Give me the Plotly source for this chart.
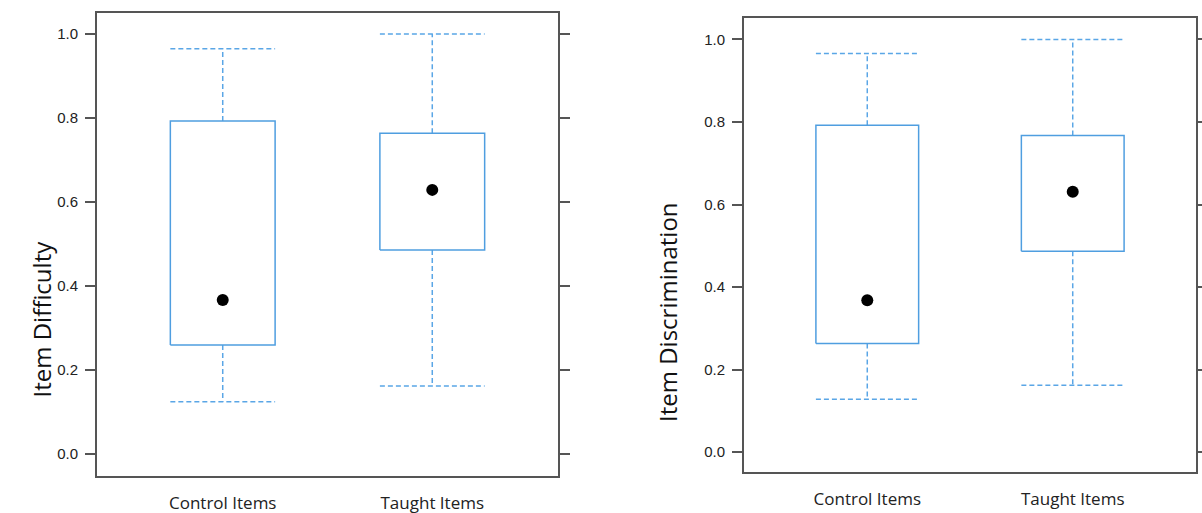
import plotly.graph_objects as go

# Box-and-whisker summaries for the two item groups
categories = ["Control Items", "Taught Items"]
positions = [1, 2]

difficulty_lower = [0.125, 0.162]
difficulty_q1 = [0.260, 0.486]
difficulty_median = [0.367, 0.629]
difficulty_q3 = [0.793, 0.764]
difficulty_upper = [0.965, 1.000]

discrimination_lower = [0.128, 0.162]
discrimination_q1 = [0.263, 0.487]
discrimination_median = [0.368, 0.631]
discrimination_q3 = [0.792, 0.767]
discrimination_upper = [0.966, 1.000]

y_ticks = [0.0, 0.2, 0.4, 0.6, 0.8, 1.0]

BOX_BLUE = "#4f9ee0"
WHISKER_BLUE = "#5aa6e6"
FRAME = "#555555"
HALF = 0.25

fig = go.Figure()


def add_panel(xref, yref, lower, q1, med, q3, upper):
    for x, lo, a, m, b, hi in zip(positions, lower, q1, med, q3, upper):
        # whiskers (dashed) with caps
        fig.add_trace(go.Scatter(
            x=[x, x, None, x, x, None, x - HALF, x + HALF, None, x - HALF, x + HALF],
            y=[b, hi, None, a, lo, None, hi, hi, None, lo, lo],
            mode="lines", line=dict(color=WHISKER_BLUE, width=1.5, dash="5px,3px"),
            xaxis=xref, yaxis=yref, hoverinfo="skip", showlegend=False))
        # box
        fig.add_trace(go.Scatter(
            x=[x - HALF, x + HALF, x + HALF, x - HALF, x - HALF],
            y=[a, a, b, b, a],
            mode="lines", line=dict(color=BOX_BLUE, width=1.5),
            xaxis=xref, yaxis=yref, hoverinfo="skip", showlegend=False))
        # median dot
        fig.add_trace(go.Scatter(
            x=[x], y=[m], mode="markers",
            marker=dict(color="black", size=12),
            xaxis=xref, yaxis=yref, showlegend=False))


add_panel("x", "y", difficulty_lower, difficulty_q1, difficulty_median,
          difficulty_q3, difficulty_upper)
add_panel("x2", "y2", discrimination_lower, discrimination_q1, discrimination_median,
          discrimination_q3, discrimination_upper)

x_common = dict(
    range=[0.4, 2.6], tickvals=positions, ticktext=categories, ticks="",
    showline=True, mirror=True, linecolor=FRAME, linewidth=2,
    showgrid=False, zeroline=False, ticklabelstandoff=11, automargin=False,
    tickfont=dict(family="Open Sans", size=17, color="#222222"),
)
y_common = dict(
    tickvals=y_ticks, tickformat=".1f", ticks="outside", ticklen=10,
    tickcolor=FRAME, tickwidth=2,
    showline=True, mirror="ticks", linecolor=FRAME, linewidth=2,
    showgrid=False, zeroline=False, ticklabelstandoff=4, automargin=False,
    tickfont=dict(family="Liberation Sans", size=15, color="#222222"),
)

fig.update_layout(
    width=1202, height=513,
    margin=dict(l=0, r=0, t=0, b=0, autoexpand=False),
    paper_bgcolor="white", plot_bgcolor="white",
    showlegend=False,
    xaxis=dict(domain=[97 / 1202, 558 / 1202], anchor="y", **x_common),
    yaxis=dict(domain=[1 - 476 / 513, 1 - 13 / 513], anchor="x",
               range=[-0.052, 1.05], **y_common),
    xaxis2=dict(domain=[744 / 1202, 1196 / 1202], anchor="y2", **x_common),
    yaxis2=dict(domain=[1 - 472 / 513, 1 - 17.5 / 513], anchor="x2",
                range=[-0.048, 1.053], **y_common),
    annotations=[
        dict(text="Item Difficulty", textangle=-90, xref="paper", yref="paper",
             x=22 / 1202, y=1 - 319 / 513, showarrow=False,
             font=dict(family="Open Sans", size=24, color="#111111")),
        dict(text="Item Discrimination", textangle=-90, xref="paper", yref="paper",
             x=667 / 1202, y=1 - 312 / 513, showarrow=False,
             font=dict(family="Open Sans", size=24, color="#111111")),
    ],
)

fig.write_html("out.html")
